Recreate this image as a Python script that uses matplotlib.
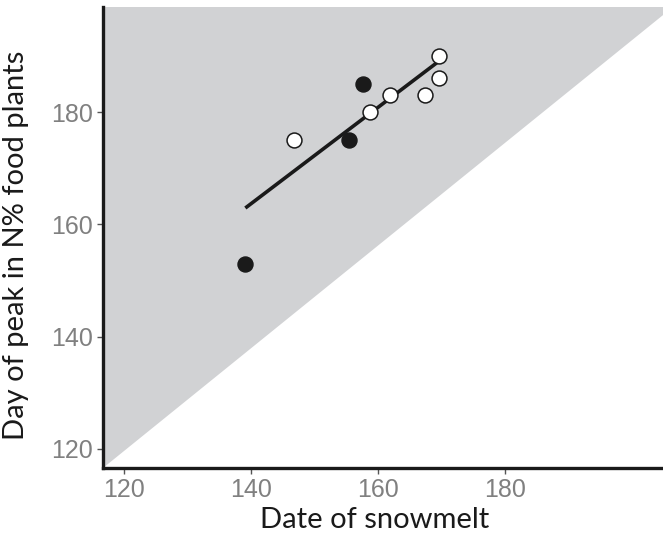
import matplotlib
matplotlib.use("Agg")
import matplotlib.pyplot as plt
from matplotlib.patches import Polygon

plt.rcParams["font.family"] = ["Liberation Sans", "DejaVu Sans"]

# values
filled_x = [139.1, 155.4, 157.6]
filled_y = [153.0, 175.0, 185.0]
open_x = [146.7, 158.7, 161.9, 167.4, 169.6, 169.6]
open_y = [175.0, 180.0, 183.0, 183.0, 186.0, 190.0]
fit_x = [139.1, 169.5]
fit_y = [162.9, 189.0]
xticks = [120, 140, 160, 180]
yticks = [120, 140, 160, 180]

W, H = 663, 540
fig = plt.figure(figsize=(W / 100, H / 100), dpi=100)
# right edge of the panel sits a little past the picture edge
ax = fig.add_axes([103 / W, (H - 468) / H, (673 - 103) / W, (468 - 7) / H])

ax.set_xlim(116.7, 206.4)
ax.set_ylim(116.6, 198.7)

# shaded triangle above the corner-to-corner diagonal
tri = Polygon([(0, 0), (1, 1), (0, 1)], closed=True, transform=ax.transAxes,
              facecolor="#d1d2d4", edgecolor="none", zorder=0)
ax.add_patch(tri)

ax.plot(fit_x, fit_y, color="#1a1a1a", lw=2.6, solid_capstyle="butt", zorder=2)
ax.scatter(open_x, open_y, s=115, facecolor="white", edgecolor="#1a1a1a",
           linewidths=1.1, zorder=3)
ax.scatter(filled_x, filled_y, s=115, facecolor="#1a1a1a", edgecolor="#1a1a1a",
           linewidths=1.1, zorder=3)

for side in ["top", "right"]:
    ax.spines[side].set_visible(False)
for side in ["left", "bottom"]:
    ax.spines[side].set_linewidth(2.4)
    ax.spines[side].set_color("#1a1a1a")

ax.set_xticks(xticks)
ax.set_yticks(yticks)
ax.tick_params(axis="both", direction="out", length=4, width=1.0,
               color="#555555", labelcolor="#808080", labelsize=18, pad=3)

ax.set_xlabel("Date of snowmelt", fontsize=21, family="Lato", color="#1a1a1a")
ax.set_ylabel("Day of peak in N% food plants", fontsize=21, family="Lato",
              color="#1a1a1a")
ax.xaxis.set_label_coords(0.477, -0.085)
ax.yaxis.set_label_coords(-0.13, 0.484)

fig.savefig("out.png", dpi=100)
